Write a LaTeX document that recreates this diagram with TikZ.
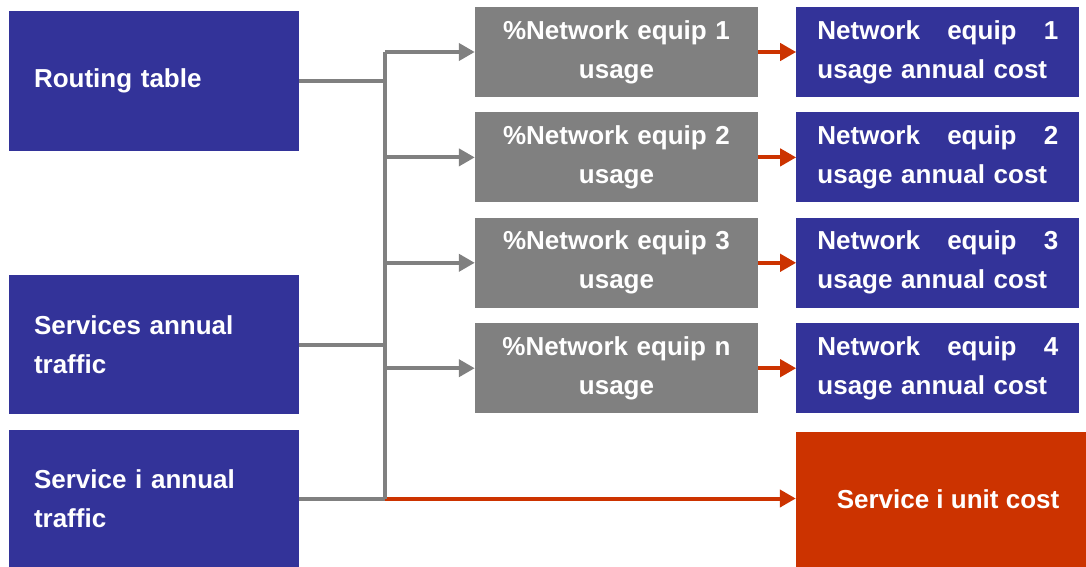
\documentclass[tikz,border=0pt]{standalone}
\usepackage{fontspec}
\setmainfont{Liberation Sans}
\usetikzlibrary{arrows.meta,positioning}
\definecolor{navy}{RGB}{51,51,153}
\definecolor{stone}{RGB}{128,128,128}
\definecolor{rust}{RGB}{204,51,0}

\begin{document}
\begin{tikzpicture}[x=1pt,y=-1pt,
      node distance=15pt,
      txt/.style={text=white,
        font=\fontsize{26}{39}\selectfont\bfseries},
      srcbox/.style={txt,fill=navy,minimum width=290pt,
        text width=240pt,inner xsep=25pt,align=left},
      usebox/.style={txt,fill=stone,minimum width=283pt,
        minimum height=90pt,text width=260pt,align=center},
      costbox/.style={txt,fill=navy,minimum width=283pt,
        minimum height=90pt,text width=241pt,inner xsep=21pt,
        align=left},
      unitbox/.style={txt,fill=rust,minimum width=290pt,
        minimum height=135pt,align=center},
      gline/.style={line width=4pt,stone},
      garr/.style={gline,-{Triangle[length=16pt,width=17pt]}},
      rline/.style={line width=4pt,rust},
      rarr/.style={rline,-{Triangle[length=16pt,width=17pt]}}
    ]
      \useasboundingbox (0,0) rectangle (1086,567);

      \node[srcbox,minimum height=140pt] (rt) at (154,81)
        {Routing table};
      \node[srcbox,minimum height=139pt] (sat) at (154,344.5)
        {Services annual\\traffic};
      \node[srcbox,minimum height=137pt] (sit) at (154,498.5)
        {Service i annual\\traffic};

      \node[usebox] (u1) at (616.5,52) {\%Network equip 1\\usage};
      \node[usebox,below=of u1] (u2) {\%Network equip 2\\usage};
      \node[usebox,below=of u2] (u3) {\%Network equip 3\\usage};
      \node[usebox,below=of u3] (u4) {\%Network equip n\\usage};

      \node[costbox,right=38pt of u1] (c1)
        {Network\hfill equip\hfill 1\\usage annual cost};
      \node[costbox,right=38pt of u2] (c2)
        {Network\hfill equip\hfill 2\\usage annual cost};
      \node[costbox,right=38pt of u3] (c3)
        {Network\hfill equip\hfill 3\\usage annual cost};
      \node[costbox,right=38pt of u4] (c4)
        {Network\hfill equip\hfill 4\\usage annual cost};

      \node[unitbox] (uc) at (941,499.5)
        {\hspace{14pt}Service i unit cost};

      \coordinate (j) at (385,52);

      \draw[gline] (rt.east) -- (rt.east -| j);
      \draw[gline] (sat.east) -- (sat.east -| j);
      \draw[gline] (sit.east) -- (sit.east -| j);
      \draw[rarr] (sit.east -| j) -- (uc.west |- sit.east);
      \draw[gline] (sit.east -| j) -- (j);
      \draw[garr] (j) -- (u1);
      \draw[garr] (u2 -| j) -- (u2);
      \draw[garr] (u3 -| j) -- (u3);
      \draw[garr] (u4 -| j) -- (u4);

      \draw[rarr] (u1) -- (c1);
      \draw[rarr] (u2) -- (c2);
      \draw[rarr] (u3) -- (c3);
      \draw[rarr] (u4) -- (c4);
    \end{tikzpicture}
\end{document}
